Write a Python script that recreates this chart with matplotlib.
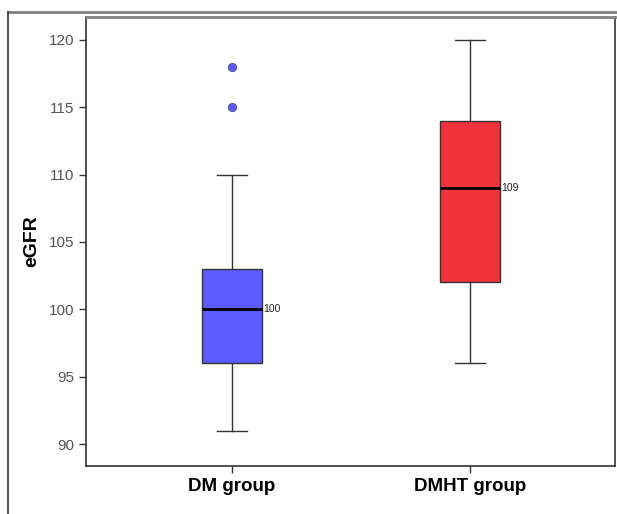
import matplotlib
matplotlib.use("Agg")
import matplotlib.pyplot as plt
from matplotlib.lines import Line2D

plt.rcParams['font.family'] = ['Liberation Sans', 'DejaVu Sans']

categories = ["DM group", "DMHT group"]
whislo = [91, 96]
q1 = [96, 102]
med = [100, 109]
q3 = [103, 114]
whishi = [110, 120]
outliers = [[115, 118], []]
colors = ["#5B5BFF", "#F0323C"]
yticks = [90, 95, 100, 105, 110, 115, 120]

fig = plt.figure(figsize=(6.17, 5.14), dpi=100)
ax = fig.add_axes([86/617, 1-466/514, (615-86)/617, (466-17)/514])

stats = []
for i, c in enumerate(categories):
    stats.append(dict(label=c, whislo=whislo[i], q1=q1[i], med=med[i], q3=q3[i],
                      whishi=whishi[i], fliers=outliers[i]))
positions = [0, 1]
width = 0.252
bp = ax.bxp(stats, positions=positions, widths=width, patch_artist=True,
            boxprops=dict(edgecolor="#333333", linewidth=1.0),
            medianprops=dict(color="black", linewidth=2.0),
            whiskerprops=dict(color="#333333", linewidth=1.0),
            capprops=dict(color="#333333", linewidth=1.0),
            capwidths=width/2,
            flierprops=dict(marker='o', markerfacecolor="#5B5BFF", markeredgecolor="#555577",
                            markersize=6, markeredgewidth=0.6))
for patch, col in zip(bp['boxes'], colors):
    patch.set_facecolor(col)

for p, m in zip(positions, med):
    ax.text(p + width/2 + 0.005, m, str(m), fontsize=7.5, va='center', ha='left', color='#222222')

ax.set_xlim(-0.613, 1.609)
ax.set_ylim(88.37, 121.7)
ax.set_yticks(yticks)
ax.set_yticklabels([str(t) for t in yticks], fontsize=11, color='#555555')
ax.set_xticks(positions)
ax.set_xticklabels(categories, fontsize=13.5, fontweight='bold', color='black')
ax.tick_params(axis='both', direction='out', length=5, width=1, colors='#333333')
for lbl in ax.get_yticklabels():
    lbl.set_color('#555555')
for lbl in ax.get_xticklabels():
    lbl.set_color('black')
ax.set_ylabel("eGFR", fontsize=14, fontweight='bold', labelpad=6)

ax.spines['top'].set_color('#808080')
ax.spines['top'].set_linewidth(2)
for s in ['left', 'bottom', 'right']:
    ax.spines[s].set_color('#333333')
    ax.spines[s].set_linewidth(1.2)

# outer frame lines
fig.add_artist(Line2D([8/617, 1], [1-12/514, 1-12/514], color='#808080', linewidth=2,
                      transform=fig.transFigure))
fig.add_artist(Line2D([8/617, 8/617], [0, 1-12/514], color='#333333', linewidth=1.2,
                      transform=fig.transFigure))

fig.savefig("out.png", dpi=100)
